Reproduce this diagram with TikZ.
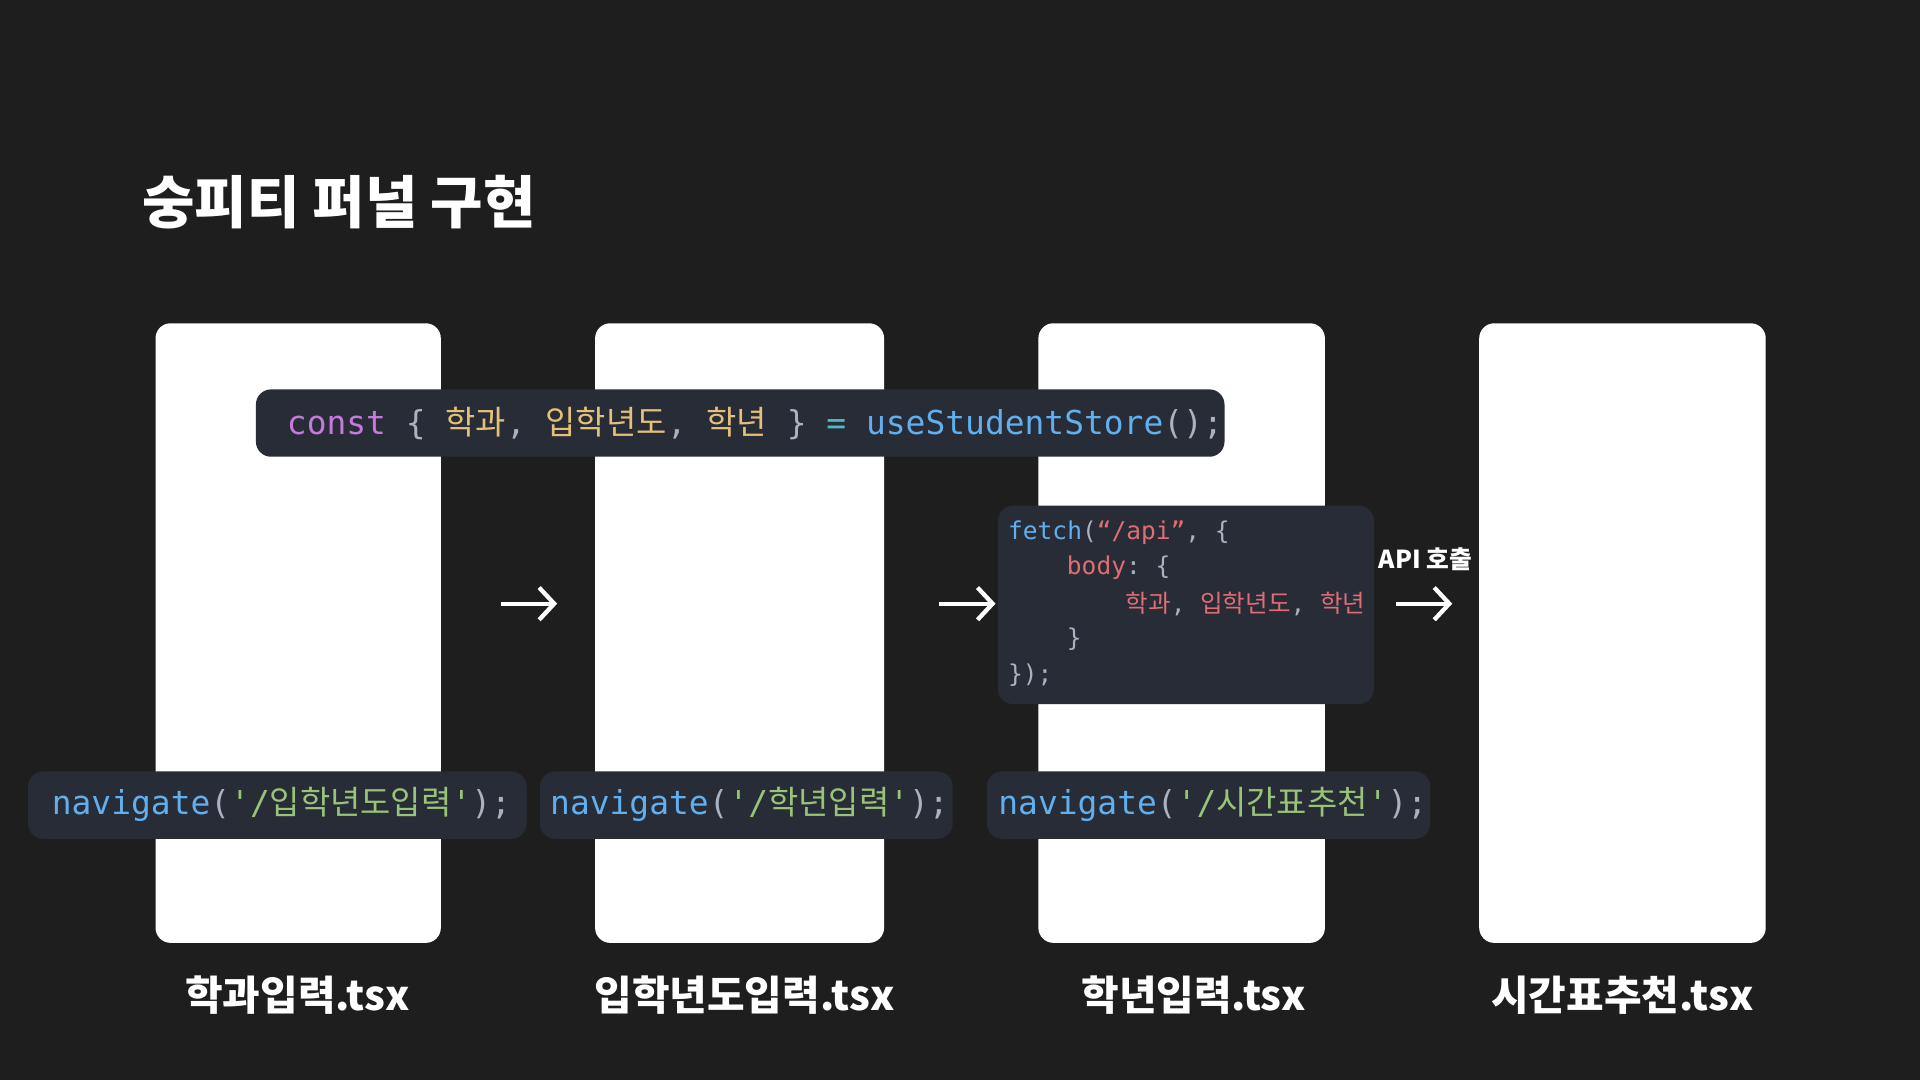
\documentclass[tikz,border=0pt]{standalone}
\usepackage{fontspec}
\setmainfont{Noto Sans CJK KR}
\setmonofont{DejaVu Sans Mono}
\newfontfamily\cjk{Noto Sans CJK KR}
\newcommand{\kr}[1]{{\cjk #1}}
\usetikzlibrary{positioning,arrows.meta}
\definecolor{bgc}{HTML}{1E1E1E}
\definecolor{codebg}{HTML}{282C37}
\definecolor{cpurple}{HTML}{C678DD}
\definecolor{cyellow}{HTML}{E5C07B}
\definecolor{ccyan}{HTML}{56B6C2}
\definecolor{cblue}{HTML}{61AFEF}
\definecolor{cgray}{HTML}{ABB2BF}
\definecolor{cgreen}{HTML}{98C379}
\definecolor{cred}{HTML}{E06C75}
\begin{document}
\begin{tikzpicture}[x=0.02cm, y=-0.02cm]
  \tikzset{card/.style={fill=white, rounded corners=7pt},
    codebox/.style={fill=codebg, rounded corners=7pt},
    code/.style={anchor=west, inner sep=0pt, font=\ttfamily\fontsize{15.3}{17}\selectfont, text=cgray},
    small/.style={anchor=west, inner sep=0pt, font=\ttfamily\fontsize{11.4}{13}\selectfont, text=cgray},
    fname/.style={text=white, font=\bfseries\fontsize{19}{22}\selectfont},
    flow/.style={draw=white, line width=2pt, -{Straight Barb[length=7pt,width=15pt,line width=2pt]}}}
  \fill[bgc] (0,0) rectangle (1568,882);

  % title
  \node[anchor=west, text=white, font=\bfseries\fontsize{26.5}{30}\selectfont] (title) at (110,165) {숭피티 퍼널 구현};

  % cards
  \fill[card] (127,264) rectangle (360,770);
  \fill[card] (486,264) rectangle (722,770);
  \fill[card] (848,264) rectangle (1082,770);
  \fill[card] (1208,264) rectangle (1442,770);

  \node[fname] (f1) at (243,813) {학과입력.tsx};
  \node[fname] (f2) at (608,813) {입학년도입력.tsx};
  \node[fname] (f3) at (975,813) {학년입력.tsx};
  \node[fname] (f4) at (1325,813) {시간표추천.tsx};

  % store
  \fill[codebox] (209,318) rectangle (1000,373);
  \node[code] (store) at (234,346) {\textcolor{cpurple}{const} \{ \textcolor{cyellow}{\kr{학과}}, \textcolor{cyellow}{\kr{입학년도}}, \textcolor{cyellow}{\kr{학년}} \} \textcolor{ccyan}{=} \textcolor{cblue}{useStudentStore}();};

  % navigate
  \fill[codebox] (23,630) rectangle (430,685);
  \fill[codebox] (441,630) rectangle (778,685);
  \fill[codebox] (806,630) rectangle (1168,685);
  \node[code] (nav1) at (42,657) {\textcolor{cblue}{navigate}(\textcolor{cgreen}{'/\kr{입학년도입력}'});};
  \node[code] (nav2) at (449,657) {\textcolor{cblue}{navigate}(\textcolor{cgreen}{'/\kr{학년입력}'});};
  \node[code] (nav3) at (815,657) {\textcolor{cblue}{navigate}(\textcolor{cgreen}{'/\kr{시간표추천}'});};

  % fetch
  \fill[codebox] (815,413) rectangle (1122,575);
  \node[small] (l1) at (823,435) {\textcolor{cblue}{fetch}(\textcolor{cred}{“/api”}, \{};
  \node[small] (l2) at (871,464) {\textcolor{cred}{body}: \{};
  \node[small] (l3) at (919,493) {\textcolor{cred}{\kr{학과}}, \textcolor{cred}{\kr{입학년도}}, \textcolor{cred}{\kr{학년}}};
  \node[small] (l4) at (871,522) {\}};
  \node[small] (l5) at (823,551) {\});};

  % arrows
  \coordinate (a1) at (409,493); \coordinate (b1) at (455,493);
  \coordinate (a2) at (767,493); \coordinate (b2) at (813,493);
  \coordinate (a3) at (1140,493); \coordinate (b3) at (1186,493);
  \draw[flow] (a1) -- (b1);
  \draw[flow] (a2) -- (b2);
  \draw[flow] (a3) -- (b3);
  \node[text=white, font=\bfseries\fontsize{11.5}{14}\selectfont] (api) at (1164,457) {API 호출};
\end{tikzpicture}
\end{document}
